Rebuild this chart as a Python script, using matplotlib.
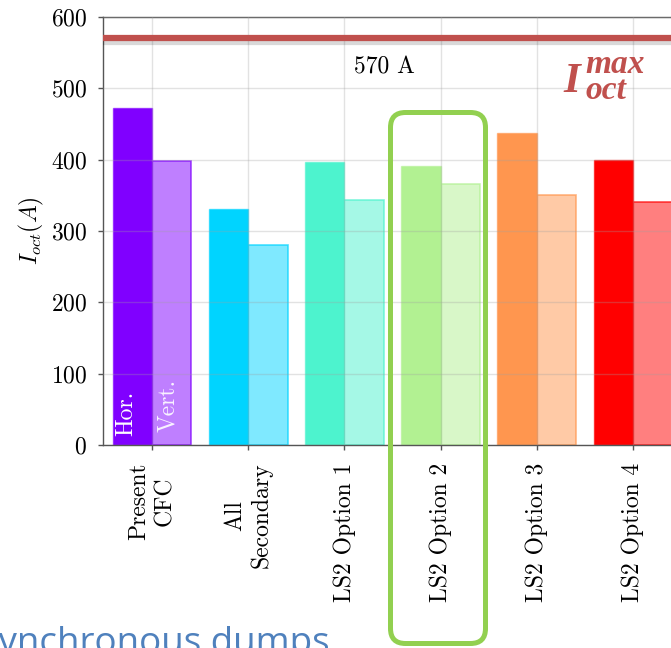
import matplotlib
matplotlib.use("Agg")
import matplotlib.pyplot as plt
import numpy as np
from matplotlib import patheffects
from matplotlib.colors import to_rgba
from matplotlib.patches import FancyBboxPatch
from matplotlib.transforms import IdentityTransform

# data
categories = ["Present\nCFC", "All\nSecondary", "LS2 Option 1",
              "LS2 Option 2", "LS2 Option 3", "LS2 Option 4"]
i_hor = [473, 331, 397, 391, 437, 400]
i_vert = [398, 281, 343, 366, 350, 341]
i_oct_max = 570
yticks = [0, 100, 200, 300, 400, 500, 600]
bar_colors = ["#8000ff", "#00d4ff", "#4df3ce", "#b2f192", "#ff964f", "#ff0000"]

plt.rcParams["font.family"] = "cmr10"
plt.rcParams["mathtext.fontset"] = "cm"
plt.rcParams["axes.formatter.use_mathtext"] = True

W, H = 671, 648
fig = plt.figure(figsize=(W / 100, H / 100), dpi=100)
# axes runs past the right edge, the reference is a crop
ax = fig.add_axes([103 / W, 1 - 445 / H, (690.7 - 103) / W, (445 - 17) / H])

x = np.arange(len(categories))
w = 0.41
for xi, h, v, c in zip(x, i_hor, i_vert, bar_colors):
    ax.bar(xi - w / 2, h, w, color=c, edgecolor=to_rgba(c, 0.6), lw=1)
    ax.bar(xi + w / 2, v, w, color=to_rgba(c, 0.5), edgecolor=to_rgba(c, 0.7), lw=1.2)

ax.text(x[0] - 0.27, 13, "Hor.", rotation=90, ha="center", va="bottom",
        color="white", fontsize=17)
ax.text(x[0] + 0.17, 18, "Vert.", rotation=90, ha="center", va="bottom",
        color="white", alpha=0.9, fontsize=17)

red = "#c0504d"
ax.axhline(i_oct_max, color=red, lw=4.5, zorder=4,
           path_effects=[patheffects.SimpleLineShadow(offset=(0, -2.5), shadow_color="k", alpha=0.15),
                         patheffects.Normal()])
ax.text(2.10, 521, f"{i_oct_max} A", fontsize=17, ha="left", va="baseline")

ax.set_xlim(-0.51, 5.6)
ax.set_ylim(yticks[0], yticks[-1])
ax.set_yticks(yticks)
ax.set_xticks(x)
ax.set_xticklabels(categories, rotation=90, ha="center", va="top", multialignment="center")
ax.set_ylabel(r"$I_{oct}(A)$", fontsize=17, labelpad=3)

ax.grid(True, color="#a0a0a0", alpha=0.3, lw=1)
ax.set_axisbelow(False)
for s in ax.spines.values():
    s.set_color("#555555")
    s.set_linewidth(1)
ax.tick_params(axis="both", direction="out", length=3.5, width=1, color="#555555", labelsize=17)
ax.tick_params(axis="y", pad=8)
ax.tick_params(axis="x", pad=9)

# I_oct^max label
fs = dict(family="Liberation Serif", weight="bold", style="italic", color=red)
fig.text(563 / W, 1 - 92 / H, "I", fontsize=31, va="baseline", **fs)
fig.text(585 / W, 1 - 73 / H, "max", fontsize=24, va="baseline", **fs)
fig.text(585 / W, 1 - 99 / H, "oct", fontsize=24, va="baseline", **fs)

# highlight box around LS2 Option 2
box = FancyBboxPatch((390.5, H - 643.5), 95, 531, boxstyle="round,pad=0,rounding_size=15",
                     transform=IdentityTransform(), fill=False, ec="#92d050", lw=3.6, zorder=10)
fig.add_artist(box)

fig.text(330 / W, -0.007, "synchronous dumps", ha="right", va="baseline",
         fontsize=26.5, family="Open Sans", color="#4f81bd")

fig.savefig("out.png", dpi=100)
